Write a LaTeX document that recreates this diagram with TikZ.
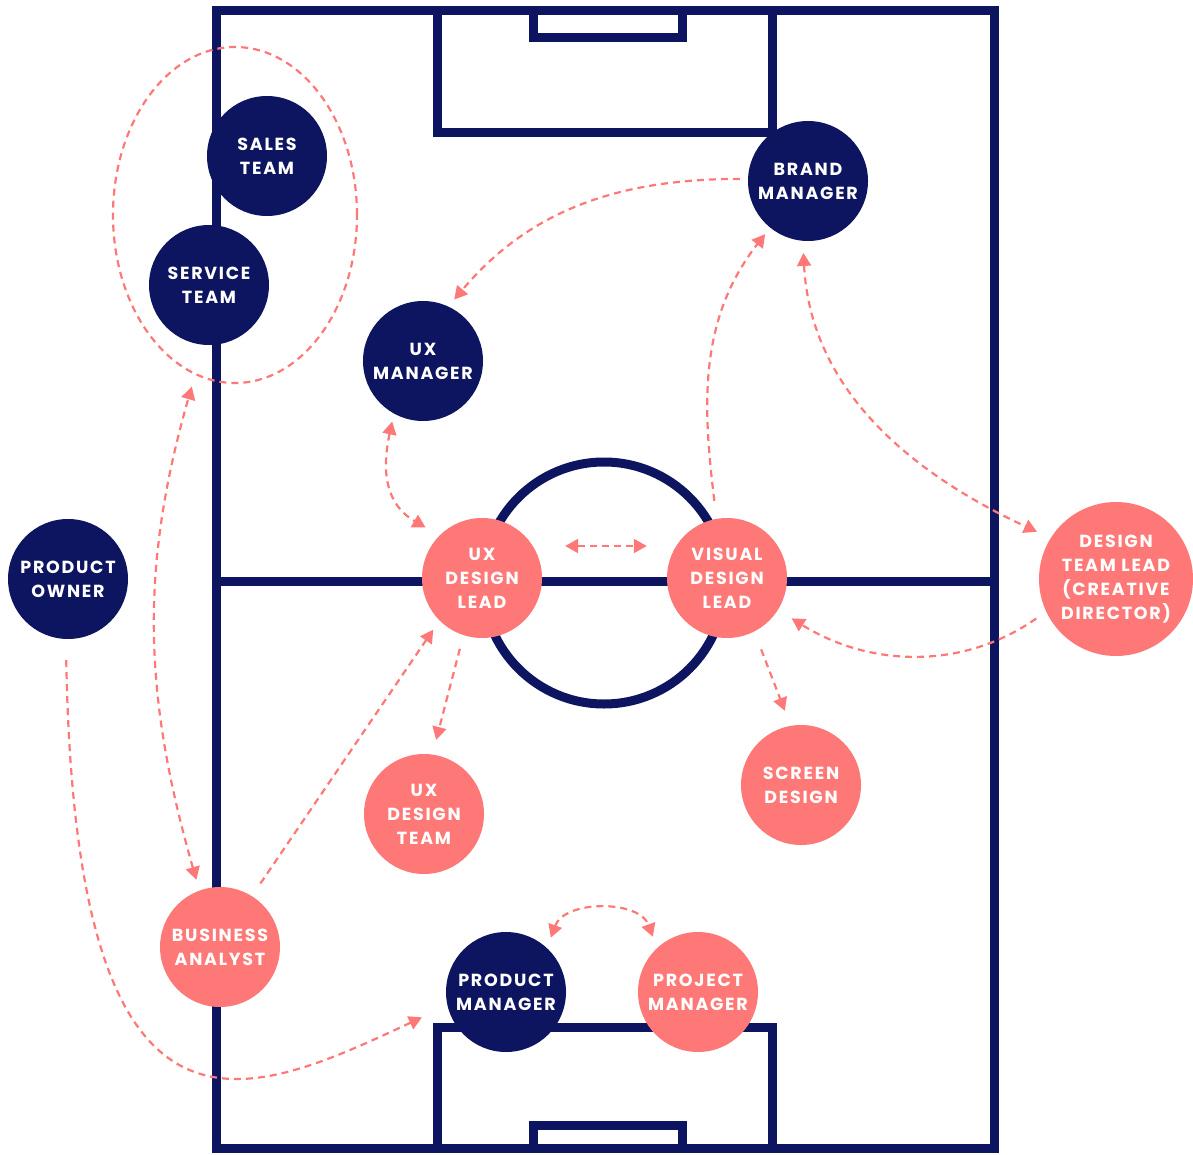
\documentclass[tikz,border=0pt]{standalone}
\usepackage{fontspec}
\usetikzlibrary{arrows.meta,calc,shapes.geometric}
\newfontfamily\lblfont{Poppins}[LetterSpace=10]
\definecolor{navy}{RGB}{13,21,96}
\definecolor{salmon}{RGB}{255,120,120}
\begin{document}
\begin{tikzpicture}[x=1pt,y=1pt,
  pitch/.style={draw=navy,line width=9pt},
  person/.style={circle,minimum size=120pt,inner sep=0pt,align=center,text=white,
    font=\lblfont\bfseries\fontsize{17.5}{24}\selectfont},
  navyp/.style={person,fill=navy},
  pinkp/.style={person,fill=salmon},
  link/.style={draw=salmon,line width=2.2pt,dash pattern=on 7pt off 5pt},
  onetip/.style={-{Triangle[length=13pt,width=14pt]}},
  twotip/.style={{Triangle[length=13pt,width=14pt]}-{Triangle[length=13pt,width=14pt]}}
]
\useasboundingbox (0,0) rectangle (1193,-1155);
% pitch
\draw[pitch] (216,-11) rectangle (994,-1148);
\draw[pitch] (216,-581) -- (994,-581);
\draw[pitch] (604,-583) circle (121);
\draw[pitch] (437,-11) |- (772,-133) -- (772,-11);
\draw[pitch] (533,-11) |- (682,-38) -- (682,-11);
\draw[pitch] (437,-1148) |- (772,-1027) -- (772,-1148);
\draw[pitch] (533,-1148) |- (682,-1125) -- (682,-1148);
% group ellipse
\node[link,ellipse,minimum width=244pt,minimum height=336pt,inner sep=0pt] (grp) at (235,-215) {};
% people
\node[navyp] (st) at (267,-156) {SALES\\TEAM};
\node[navyp] (svt) at (209,-285) {SERVICE\\TEAM};
\node[navyp] (bm) at (808,-181) {BRAND\\MANAGER};
\node[navyp] (uxm) at (423,-361) {UX\\MANAGER};
\node[pinkp] (udl) at (482,-578) {UX\\DESIGN\\LEAD};
\node[pinkp] (vdl) at (727,-578) {VISUAL\\DESIGN\\LEAD};
\node[pinkp,minimum size=154pt] (dtl) at (1116,-579) {DESIGN\\TEAM LEAD\\(CREATIVE\\DIRECTOR)};
\node[navyp] (po) at (68,-579) {PRODUCT\\OWNER};
\node[pinkp] (udt) at (424,-814) {UX\\DESIGN\\TEAM};
\node[pinkp] (sd) at (801,-785) {SCREEN\\DESIGN};
\node[pinkp] (ba) at (220,-947) {BUSINESS\\ANALYST};
\node[navyp] (pm) at (506,-992) {PRODUCT\\MANAGER};
\node[pinkp] (pjm) at (698,-992) {PROJECT\\MANAGER};
% connectors
\draw[link,onetip,shorten <=8pt,shorten >=9pt] (bm.178) to[out=180,in=50] (uxm.65);
\draw[link,onetip,shorten <=18pt,shorten >=8pt] (vdl.100) to[out=97,in=232] (bm.231);
\draw[link,twotip,shorten <=12pt,shorten >=15pt] (bm.265) to[out=-87,in=155] (dtl.148);
\draw[link,onetip,shorten <=12pt,shorten >=16pt] (dtl.205) to[out=215,in=-32] (vdl.-32);
\draw[link,twotip] ([shift={(23,32)}]udl.east) -- ([shift={(-20,32)}]vdl.west);
\draw[link,twotip,shorten <=8pt,shorten >=16pt] (uxm.241) to[out=258,in=150,looseness=1.2] (udl.135);
\draw[link,onetip,shorten <=19pt,shorten >=16pt] (vdl.-63) -- (sd.100);
\draw[link,onetip,shorten <=14pt,shorten >=15pt] (udl.-108) -- (udt.82);
\draw[link,onetip,shorten <=15pt,shorten >=11pt] (ba.58) -- (udl.225);
\draw[link,twotip,shorten <=11pt,shorten >=12pt] (ba.110) to[out=106,in=254] (grp.256);
\draw[link,onetip,shorten <=21pt,shorten >=28pt] (po.-92) to[out=-89,in=205,out distance=541pt,in distance=223pt] (pm.193);
\draw[link,twotip,shorten <=11pt,shorten >=12pt] (pm.47) to[out=70,in=110,looseness=1.2] (pjm.133);
\end{tikzpicture}
\end{document}
